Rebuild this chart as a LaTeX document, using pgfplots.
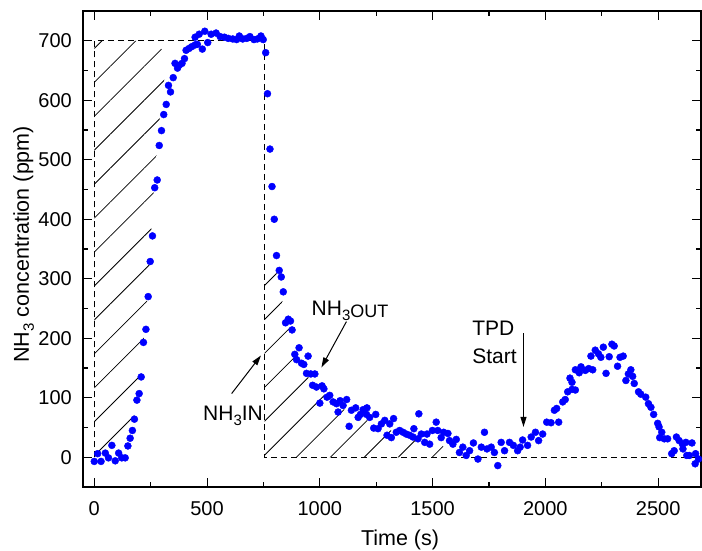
\documentclass[border=0pt]{standalone}
\usepackage{pgfplots}
\pgfplotsset{compat=1.18}
\usepackage{pgfplotstable}
\usepackage{fontspec}
\setmainfont{Liberation Sans}
\usetikzlibrary{patterns.meta,arrows.meta}
\newcommand{\subthree}{\raisebox{-5pt}{\fontsize{15}{18}\selectfont 3}}

\pgfplotstableread{
x y
0 -7
15 6
30 -7
49 7
63 -1
78 20
93 -6
108 7
122 -1
137 -1
149 19
159 32
169 45
178 64
189 96
199 107
208 135
218 193
229 215
239 270
248 329
258 372
268 453
279 466
288 524
298 549
308 576
319 593
329 625
338 614
350 638
358 662
369 654
377 659
389 662
400 670
407 684
420 687
432 690
447 693
447 706
457 694
465 711
479 686
490 716
503 697
518 711
540 713
558 707
577 706
594 704
614 703
631 702
643 708
658 703
676 704
690 707
708 702
723 703
739 708
749 702
760 680
768 611
779 518
788 455
798 400
808 339
820 314
829 303
838 278
848 226
860 232
870 229
877 214
889 173
897 164
908 184
919 158
929 156
941 141
948 170
960 140
968 121
978 140
985 118
1000 91
1010 120
1018 115
1032 101
1044 104
1059 93
1074 90
1081 76
1090 95
1103 87
1119 97
1130 52
1140 79
1159 83
1170 67
1180 72
1192 80
1207 72
1209 83
1221 67
1239 49
1248 72
1258 48
1273 56
1288 62
1298 37
1310 56
1317 33
1327 65
1339 42
1354 45
1369 42
1383 39
1398 37
1413 34
1417 48
1435 31
1439 73
1450 39
1465 25
1475 39
1487 22
1499 45
1516 59
1523 45
1538 33
1549 42
1568 40
1575 28
1590 22
1605 30
1619 8
1634 17
1649 3
1664 11
1681 24
1701 -3
1716 17
1730 42
1741 14
1760 17
1774 8
1789 -14
1804 25
1819 11
1841 25
1858 20
1877 11
1888 17
1899 29
1921 20
1937 34
1956 42
1970 28
1988 39
2006 59
2025 58
2040 79
2050 82
2059 59
2077 93
2088 97
2099 110
2109 133
2118 114
2118 126
2133 113
2133 147
2150 142
2158 152
2177 146
2192 149
2202 170
2210 147
2221 180
2235 174
2246 168
2257 185
2269 141
2283 169
2295 190
2305 187
2320 153
2331 168
2345 170
2357 129
2368 140
2379 147
2387 136
2394 124
2413 110
2423 106
2445 101
2457 90
2468 84
2480 72
2498 57
2504 51
2507 33
2516 42
2527 31
2542 31
2560 6
2571 11
2581 34
2593 28
2608 22
2610 14
2623 25
2627 3
2638 3
2650 24
2664 -11
2666 6
2679 -3
}\datatable

\begin{document}
\begin{tikzpicture}
\begin{axis}[
  at={(0,0)}, anchor=south west,
  scale only axis, width=618pt, height=476pt,
  xmin=-50, xmax=2690, ymin=-50, ymax=750,
  xtick={0,500,1000,1500,2000,2500},
  ytick={0,100,200,300,400,500,600,700},
  minor x tick num=1, minor y tick num=1,
  xtick pos=both, ytick pos=both,
  xticklabel pos=lower, yticklabel pos=left,
  tick align=inside,
  major tick length=9pt, minor tick length=5pt,
  every tick/.style={black, line width=1.1pt},
  axis line style={black, line width=1.3pt},
  /pgf/number format/assume math mode=true,
  /pgf/number format/1000 sep={},
  tick label style={font=\fontsize{20}{24}\selectfont, inner sep=0pt},
  xticklabel style={anchor=north, yshift=-14pt},
  yticklabel style={anchor=east, xshift=-11pt},
  scaled ticks=false,
  xlabel={Time (s)},
  ylabel={NH\subthree{} concentration (ppm)},
  every axis x label/.style={at={(axis description cs:0.513,0)}, anchor=base, yshift=-58pt, font=\fontsize{21.5}{25}\selectfont},
  every axis y label/.style={at={(axis description cs:0,0.51)}, xshift=-54pt, rotate=90, anchor=base, font=\fontsize{21.5}{25}\selectfont},
  clip=true,
]
% hatched regions
\addplot[draw=none, pattern={Lines[angle=45,distance=24pt,line width=0.8pt]}, forget plot]
  coordinates {(0,0) (0,700) (262,700) (327,675) (300,610) (283,540) (268,470) (258,420) (246,330) (236,270) (225,215) (213,180) (203,130) (193,100) (181,80) (168,50) (150,25) (120,10) (60,5) (0,0)} -- cycle;
\addplot[draw=none, pattern={Lines[angle=45,distance=24pt,line width=0.8pt]}, forget plot]
  coordinates {(755,0) (755,300) (805,315) (832,270) (845,225) (875,212) (900,170) (925,148) (960,128) (1000,110) (1050,95) (1100,82) (1150,72) (1200,64) (1250,55) (1300,47) (1350,40) (1400,35) (1450,30) (1500,28) (1540,25) (1565,0)} -- cycle;
% dashed outline
\addplot[black, line width=1pt, dash pattern=on 6pt off 4pt, forget plot]
  coordinates {(0,0) (0,700) (755,700) (755,0) (2690,0)};
% data
\addplot[only marks, mark=*, mark size=3.5pt, color=blue, mark options={draw=blue, fill=blue}]
  table[x=x, y=y] {\datatable};
% annotations
\node[anchor=base west, inner sep=0pt, font=\fontsize{21}{25}\selectfont] at (axis cs:482,62) {NH\subthree IN};
\draw[-{Triangle[length=10pt,width=6pt]}, line width=1pt] (axis cs:609,107) -- (axis cs:739,171);
\node[anchor=base west, inner sep=0pt, font=\fontsize{21}{25}\selectfont] at (axis cs:963,239) {NH\subthree\raisebox{-2.5pt}{\fontsize{18}{20}\selectfont OUT}};
\draw[-{Triangle[length=10pt,width=6pt]}, line width=1pt] (axis cs:1118,228) -- (axis cs:1007,151);
\node[anchor=base west, inner sep=0pt, font=\fontsize{21}{25}\selectfont] at (axis cs:1675,205) {TPD};
\node[anchor=base west, inner sep=0pt, font=\fontsize{21}{25}\selectfont] at (axis cs:1675,158) {Start};
\draw[-{Triangle[length=10pt,width=6pt]}, line width=1pt] (axis cs:1903,208) -- (axis cs:1903,51);
\end{axis}
\pgfresetboundingbox
\path[use as bounding box] (-83pt,-63pt) rectangle (619pt,487pt);
\end{tikzpicture}
\end{document}
